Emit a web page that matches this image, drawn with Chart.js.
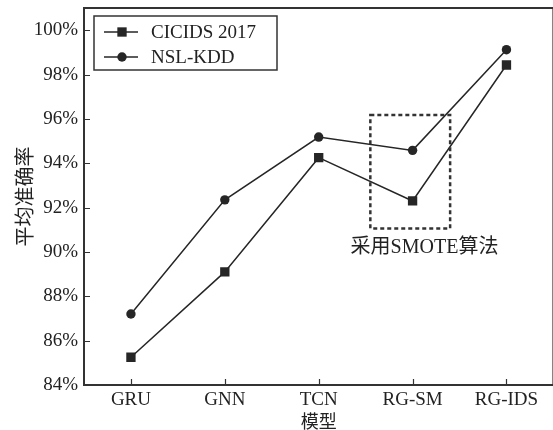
<!DOCTYPE html>
<html>
<head>
<meta charset="utf-8">
<script src="https://cdn.jsdelivr.net/npm/chart.js@4.4.0/dist/chart.umd.min.js"></script>
<style>
html,body{margin:0;padding:0;background:#fff;overflow:hidden;width:553px;height:430px;}
canvas{position:absolute;left:0;top:0;}
</style>
</head>
<body>
<canvas id="c" width="560" height="430"></canvas>
<script>
const categories = ['GRU', 'GNN', 'TCN', 'RG-SM', 'RG-IDS'];
const cicids2017 = [85.25, 89.1, 94.25, 92.3, 98.43];
const nslKdd = [87.2, 92.35, 95.18, 94.58, 99.12];
const yTicks = [84, 86, 88, 90, 92, 94, 96, 98, 100];
const seriesNames = ['CICIDS 2017', 'NSL-KDD'];
const yTitle = '平均准确率';
const xTitle = '模型';
const noteText = '采用SMOTE算法';
// highlight region in data units (category index / percent)
const highlight = { xFrom: 2.55, xTo: 3.4, yFrom: 91.06, yTo: 96.17, textX: 3.127, textY: 90.2 };

const INK = '#262626';
const FONT = "'Liberation Serif', 'Times New Roman', 'Noto Sans CJK SC', serif";

const framePlugin = {
  id: 'frame',
  afterDatasetsDraw(chart) {
    const { ctx, chartArea: a, scales } = chart;
    const xs = scales.x, ys = scales.y;
    ctx.save();
    ctx.strokeStyle = '#333';
    ctx.lineWidth = 2;
    ctx.strokeRect(a.left, a.top, a.right - a.left, a.bottom - a.top);
    ctx.lineWidth = 1.2;
    ctx.beginPath();
    ys.ticks.forEach(t => {
      const y = Math.round(ys.getPixelForValue(t.value)) + 0.5;
      ctx.moveTo(a.left, y); ctx.lineTo(a.left + 6, y);
    });
    categories.forEach((c, i) => {
      const x = Math.round(xs.getPixelForValue(i)) + 0.5;
      ctx.moveTo(x, a.bottom); ctx.lineTo(x, a.bottom - 6);
    });
    ctx.stroke();
    const x1 = xs.getPixelForValue(highlight.xFrom), x2 = xs.getPixelForValue(highlight.xTo);
    const y1 = ys.getPixelForValue(highlight.yTo), y2 = ys.getPixelForValue(highlight.yFrom);
    ctx.setLineDash([4, 3]);
    ctx.lineWidth = 2.5;
    ctx.strokeStyle = '#333';
    ctx.strokeRect(x1, y1, x2 - x1, y2 - y1);
    ctx.setLineDash([]);
    ctx.fillStyle = '#222';
    ctx.font = '20px ' + FONT;
    ctx.textAlign = 'center';
    ctx.textBaseline = 'middle';
    ctx.fillText(noteText, xs.getPixelForValue(highlight.textX), ys.getPixelForValue(highlight.textY));
    const lx = a.left + 10, ly = a.top + 8, lw = 183, lh = 54;
    ctx.fillStyle = '#fff';
    ctx.fillRect(lx, ly, lw, lh);
    ctx.strokeStyle = '#333';
    ctx.lineWidth = 1.5;
    ctx.strokeRect(lx, ly, lw, lh);
    chart.data.datasets.forEach((ds, i) => {
      const ry = ly + 16 + i * 25;
      ctx.strokeStyle = ds.borderColor;
      ctx.lineWidth = ds.borderWidth;
      ctx.beginPath();
      ctx.moveTo(lx + 10, ry); ctx.lineTo(lx + 44, ry);
      ctx.stroke();
      ctx.fillStyle = ds.pointBackgroundColor;
      Chart.helpers.drawPoint(ctx, { pointStyle: ds.pointStyle, radius: ds.pointRadius, rotation: 0 }, lx + 28, ry);
      ctx.fillStyle = '#222';
      ctx.font = '19px ' + FONT;
      ctx.textAlign = 'left';
      ctx.textBaseline = 'middle';
      ctx.fillText(ds.label, lx + 57, ry + 1);
    });
    ctx.restore();
  }
};

new Chart(document.getElementById('c'), {
  type: 'line',
  data: {
    labels: categories,
    datasets: [
      { label: seriesNames[0], data: cicids2017, borderColor: INK, backgroundColor: INK,
        pointBackgroundColor: INK, pointBorderColor: INK, borderWidth: 1.5, pointStyle: 'rect',
        pointRadius: 6.6, pointBorderWidth: 0, tension: 0 },
      { label: seriesNames[1], data: nslKdd, borderColor: INK, backgroundColor: INK,
        pointBackgroundColor: INK, pointBorderColor: INK, borderWidth: 1.5, pointStyle: 'circle',
        pointRadius: 4.7, pointBorderWidth: 0, tension: 0 }
    ]
  },
  options: {
    responsive: false,
    animation: false,
    layout: { padding: { left: 0, top: 8, right: 4, bottom: 0 } },
    plugins: { legend: { display: false }, tooltip: { enabled: false } },
    scales: {
      x: {
        type: 'category',
        offset: true,
        grid: { display: false, drawTicks: false },
        border: { display: false },
        ticks: { color: '#222', font: { family: FONT, size: 19 }, padding: 4, maxRotation: 0 },
        title: { display: true, text: xTitle, color: '#222', font: { family: FONT, size: 18 }, padding: { top: 0, bottom: -4 } },
        afterFit(s) { s.height = 45; s.paddingLeft = 0; s.paddingRight = 0; }
      },
      y: {
        min: 84, max: 101,
        grid: { display: false, drawTicks: false },
        border: { display: false },
        afterBuildTicks(s) { s.ticks = yTicks.map(v => ({ value: v })); },
        ticks: { color: '#222', font: { family: FONT, size: 19 }, padding: 6,
          callback: v => v + '%' },
        title: { display: true, text: yTitle, color: '#222', font: { family: FONT, size: 20 }, padding: { top: 15, bottom: 0 } },
        afterFit(s) { s.width = 84; s.paddingTop = 0; s.paddingBottom = 0; }
      }
    }
  },
  plugins: [framePlugin]
});
</script>
</body>
</html>
